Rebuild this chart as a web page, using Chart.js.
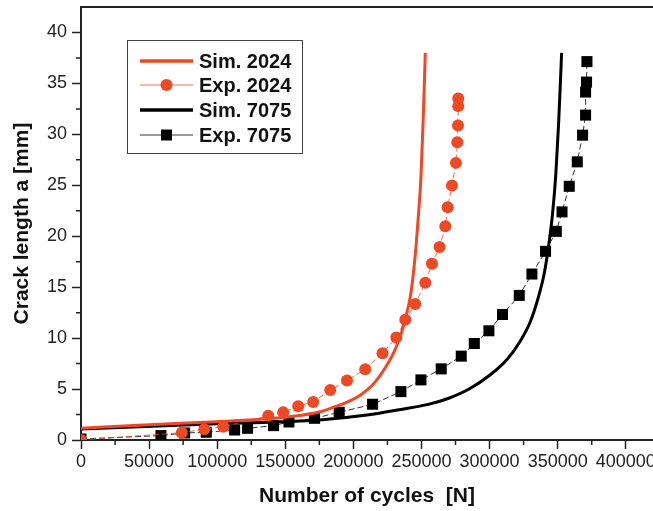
<!DOCTYPE html>
<html>
<head>
<meta charset="utf-8">
<script src="https://cdn.jsdelivr.net/npm/chart.js@4.4.0/dist/chart.umd.min.js"></script>
<style>
  html, body { margin: 0; padding: 0; background: #fff; }
</style>
</head>
<body>
<canvas id="ch1" width="653" height="511"></canvas>
<script>
// values
const sim2024X = [0, 50000, 100000, 140000, 160000, 175000, 185000, 195000, 205000, 214000, 222000, 229000, 234000, 238000, 242000, 244000, 246000, 248000, 249500, 251000, 252000, 252800];
const sim2024Y = [1.15, 1.5, 1.8, 2.1, 2.4, 2.75, 3.2, 3.7, 4.4, 5.4, 6.8, 8.4, 10.0, 11.8, 14.2, 16.3, 19.0, 22.5, 25.5, 30.5, 34.5, 38.0];

const exp2024X = [0, 74000, 90500, 104500, 137500, 148500, 159500, 170500, 183000, 195300, 208700, 221400, 231500, 238100, 245400, 252800, 257700, 263300, 267500, 269200, 272400, 275300, 276300, 276800, 277000, 277000];
const exp2024Y = [0, 0.72, 1.05, 1.31, 2.39, 2.72, 3.31, 3.74, 4.9, 5.83, 6.95, 8.52, 10.06, 11.8, 13.34, 15.44, 17.3, 18.95, 20.97, 22.84, 24.98, 27.2, 29.23, 30.88, 32.77, 33.53];

const sim7075X = [0, 100000, 175000, 210000, 235000, 255000, 270000, 285000, 300500, 312800, 322500, 329900, 336000, 340200, 343300, 346300, 348700, 350700, 352100, 352900];
const sim7075Y = [1.08, 1.6, 1.97, 2.45, 3.0, 3.5, 4.1, 5.0, 6.4, 7.9, 9.7, 11.6, 14.1, 16.4, 19.0, 22.3, 26.2, 31.1, 35.4, 38.0];

const exp7075X = [0, 58700, 76100, 92000, 112800, 122300, 141400, 152700, 171500, 189600, 214100, 234900, 249600, 264500, 279200, 288800, 299500, 309500, 321800, 331100, 341100, 349000, 353200, 358500, 364400, 368300, 370500, 370500, 371200, 371500];
const exp7075Y = [0.1, 0.43, 0.69, 0.76, 0.98, 1.15, 1.41, 1.77, 2.13, 2.72, 3.51, 4.75, 5.9, 6.98, 8.23, 9.47, 10.72, 12.32, 14.19, 16.29, 18.52, 20.48, 22.39, 24.9, 27.3, 29.92, 31.89, 34.15, 35.13, 37.14];

const xTickValues = [0, 50000, 100000, 150000, 200000, 250000, 300000, 350000, 400000];
const xTicksStep = 50000;
const yTicksStep = 5;

const RED = 'rgb(238,72,36)';
const FONT = "'Liberation Sans', Arial, sans-serif";

function pts(xs, ys) {
  return xs.map((x, i) => ({ x: x, y: ys[i] }));
}

// minor ticks + top frame line
const framePlugin = {
  id: 'frame',
  afterDraw(chart) {
    const ctx = chart.ctx;
    const a = chart.chartArea;
    const xs = chart.scales.x, ys = chart.scales.y;
    ctx.save();
    ctx.strokeStyle = '#222';
    ctx.lineWidth = 2;
    ctx.beginPath();
    ctx.moveTo(a.left - 1, a.top);
    ctx.lineTo(chart.width, a.top);
    ctx.stroke();
    ctx.lineWidth = 1.5;
    ctx.beginPath();
    for (let v = xTicksStep / 2; v < xs.max; v += xTicksStep) {
      const px = xs.getPixelForValue(v);
      ctx.moveTo(px, a.bottom);
      ctx.lineTo(px, a.bottom + 5);
    }
    for (let v = yTicksStep / 2; v < ys.max; v += yTicksStep) {
      const py = ys.getPixelForValue(v);
      ctx.moveTo(a.left, py);
      ctx.lineTo(a.left - 5, py);
    }
    ctx.stroke();
    ctx.restore();
  }
};

// boxed legend inside the plot
const boxLegend = {
  id: 'boxLegend',
  afterDraw(chart) {
    const ctx = chart.ctx;
    const box = { x: 127.5, y: 40.5, w: 175, h: 113 };
    ctx.save();
    ctx.strokeStyle = '#444';
    ctx.lineWidth = 1;
    ctx.strokeRect(box.x, box.y, box.w, box.h);
    const rows = [61, 85, 110, 135];
    chart.data.datasets.forEach((ds, i) => {
      const y = rows[i];
      ctx.beginPath();
      ctx.strokeStyle = ds.borderColor;
      ctx.lineWidth = ds.legendWidth;
      ctx.moveTo(140, y);
      ctx.lineTo(193, y);
      ctx.stroke();
      if (ds.pointStyle === 'circle') {
        ctx.fillStyle = ds.pointBackgroundColor;
        ctx.beginPath();
        ctx.arc(166.5, y, 6, 0, Math.PI * 2);
        ctx.fill();
      } else if (ds.pointStyle === 'rect') {
        ctx.fillStyle = ds.pointBackgroundColor;
        ctx.fillRect(161, y - 5.5, 11, 11);
      }
      ctx.fillStyle = '#111';
      ctx.font = 'bold 20px ' + FONT;
      ctx.textBaseline = 'middle';
      ctx.textAlign = 'left';
      ctx.fillText(ds.label, 199, y + 1);
    });
    ctx.restore();
  }
};

const data = {
  datasets: [
    {
      label: 'Sim. 2024',
      data: pts(sim2024X, sim2024Y),
      borderColor: RED,
      borderWidth: 3,
      legendWidth: 3.5,
      pointRadius: 0,
      cubicInterpolationMode: 'monotone'
    },
    {
      label: 'Exp. 2024',
      data: pts(exp2024X, exp2024Y),
      borderColor: 'rgba(238,72,36,0.8)',
      borderWidth: 1,
      legendWidth: 1,
      borderDash: [6, 3],
      pointStyle: 'circle',
      pointRadius: 6,
      pointBorderWidth: 0,
      pointBackgroundColor: RED,
      tension: 0
    },
    {
      label: 'Sim. 7075',
      data: pts(sim7075X, sim7075Y),
      borderColor: '#000',
      borderWidth: 3,
      legendWidth: 3.5,
      pointRadius: 0,
      cubicInterpolationMode: 'monotone'
    },
    {
      label: 'Exp. 7075',
      data: pts(exp7075X, exp7075Y),
      borderColor: '#333',
      borderWidth: 1,
      legendWidth: 1,
      borderDash: [6, 3],
      pointStyle: 'rect',
      pointRadius: 7.8,
      pointBorderWidth: 0,
      pointBackgroundColor: '#000',
      tension: 0
    }
  ]
};

const config = {
  type: 'line',
  data: data,
  plugins: [framePlugin, boxLegend],
  options: {
    responsive: false,
    animation: false,
    devicePixelRatio: 1,
    layout: { autoPadding: false, padding: { top: 7, right: 0, left: 0, bottom: 0 } },
    plugins: {
      legend: { display: false },
      tooltip: { enabled: false }
    },
    scales: {
      x: {
        type: 'linear',
        min: 0,
        max: 420000,
        afterBuildTicks: function (s) { s.ticks = xTickValues.map(v => ({ value: v })); },
        afterFit: function (s) { s.height = 71; s.paddingLeft = 0; s.paddingRight = 0; },
        ticks: {
          autoSkip: false,
          maxRotation: 0,
          padding: 2,
          color: '#222',
          font: { family: FONT, size: 18 },
          callback: v => String(v)
        },
        grid: { drawOnChartArea: false, tickLength: 9, tickWidth: 1.5, tickColor: '#222' },
        border: { color: '#222', width: 2 },
        title: {
          display: true,
          text: 'Number of cycles  [N]',
          color: '#111',
          font: { family: FONT, size: 21, weight: 'bold' },
          padding: { top: 0, bottom: 2 }
        }
      },
      y: {
        min: 0,
        max: 42.5,
        afterFit: function (s) { s.width = 81; s.paddingTop = 0; s.paddingBottom = 0; },
        ticks: {
          stepSize: yTicksStep,
          includeBounds: false,
          padding: 5,
          color: '#222',
          font: { family: FONT, size: 18 },
          callback: v => String(v)
        },
        grid: { drawOnChartArea: false, tickLength: 9, tickWidth: 1.5, tickColor: '#222' },
        border: { color: '#222', width: 2 },
        title: {
          display: true,
          text: 'Crack length a [mm]',
          color: '#111',
          font: { family: FONT, size: 21, weight: 'bold' },
          padding: { top: 10, bottom: 0 }
        }
      }
    }
  }
};

const myChart = new Chart(document.getElementById('ch1'), config);
</script>
</body>
</html>
